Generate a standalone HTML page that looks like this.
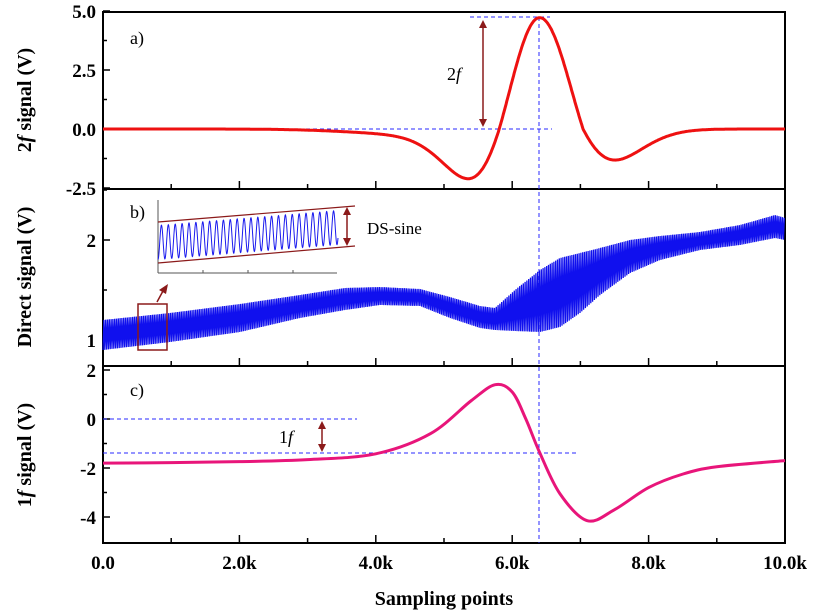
<!DOCTYPE html>
<html><head><meta charset="utf-8"><style>
body{margin:0;background:#fff}
svg{display:block;font-family:"Liberation Serif",serif}
.tl{font-weight:bold;font-size:19px}
</style></head><body>
<svg id="s" width="814" height="615" viewBox="0 0 814 615" xmlns="http://www.w3.org/2000/svg">
<g id="g"></g>
</svg>
<script>
const NS="http://www.w3.org/2000/svg",G=document.getElementById('g');
function el(t,a,txt){const e=document.createElementNS(NS,t);for(const k in a)e.setAttribute(k,a[k]);if(txt!==undefined)e.textContent=txt;G.appendChild(e);return e;}
const X=x=>103+x*68.2;
const YA=v=>129-v*23.6, YB=v=>340-(v-1)*100, YC=v=>419-v*24.5;
el('rect',{x:103,y:12,width:682,height:531,fill:'none',stroke:'#000','stroke-width':2});
el('line',{x1:103,y1:189,x2:785,y2:189,stroke:'#000','stroke-width':2});
el('line',{x1:103,y1:366,x2:785,y2:366,stroke:'#000','stroke-width':2});
[189,366,543].forEach(yb=>{for(let i=1;i<10;i++){const L=i%2==0?8:5;el('line',{x1:X(i),y1:yb,x2:X(i),y2:yb-L,stroke:'#000','stroke-width':1.5});}});
function yt(y,maj){el('line',{x1:103,y1:y,x2:103+(maj?7:4),y2:y,stroke:'#000','stroke-width':1.5});}
[5,2.5,0,-2.5].forEach(v=>yt(YA(v),1));[3.75,1.25,-1.25].forEach(v=>yt(YA(v),0));
[2,1].forEach(v=>yt(YB(v),1));[2.5,1.5].forEach(v=>yt(YB(v),0));
[2,0,-2,-4].forEach(v=>yt(YC(v),1));[1,-1,-3].forEach(v=>yt(YC(v),0));
[["5.0",YA(5)],["2.5",YA(2.5)],["0.0",YA(0)],["-2.5",YA(-2.5)],["2",YB(2)],["1",YB(1)],["2",YC(2)],["0",YC(0)],["-2",YC(-2)],["-4",YC(-4)]].forEach(([t,y])=>el('text',{x:96,y:y+7,'text-anchor':'end',class:'tl'},t));
["0.0","2.0k","4.0k","6.0k","8.0k","10.0k"].forEach((t,i)=>el('text',{x:X(i*2),y:569,'text-anchor':'middle',class:'tl'},t));
el('text',{x:444,y:605,'text-anchor':'middle','font-weight':'bold','font-size':20},'Sampling points');
function ylab(y,parts){const t=el('text',{transform:`translate(31,${y}) rotate(-90)`,'text-anchor':'middle','font-weight':'bold','font-size':20});parts.forEach(p=>{const s=document.createElementNS(NS,'tspan');s.textContent=p[0];if(p[1])s.setAttribute('font-style','italic');t.appendChild(s);});}
ylab(100,[["2"],["f",1],[" signal (V)"]]);
ylab(277,[["Direct signal (V)"]]);
ylab(455,[["1"],["f",1],[" signal (V)"]]);
el('text',{x:130,y:44,'font-size':18},'a)');
el('text',{x:130,y:218,'font-size':18},'b)');
el('text',{x:130,y:396,'font-size':18},'c)');
const dash={stroke:'#2a2aff','stroke-width':1,'stroke-dasharray':'4,3',fill:'none'};
el('line',Object.assign({x1:539,y1:17,x2:539,y2:543},dash));
el('line',Object.assign({x1:470,y1:17,x2:550,y2:17},dash));
el('line',Object.assign({x1:103,y1:129,x2:552,y2:129},dash));
el('line',Object.assign({x1:103,y1:419,x2:357,y2:419},dash));
el('line',Object.assign({x1:103,y1:453,x2:577,y2:453},dash));
function fa(x){const s=x<6.4?0.6:0.64;const u=(x-6.4)/s;let y=4.75*(1-u*u)*Math.exp(-u*u/2);if(y<0)y*=(x<6.4?0.92:0.62);y+=-0.22*Math.exp(-Math.pow((x-4.6)/1.3,2));return y;}
let d='';for(let i=0;i<=1000;i++){const x=i/100;d+=(i?'L':'M')+X(x).toFixed(1)+','+YA(fa(x)).toFixed(1);}
el('path',{d,fill:'none',stroke:'#ee1111','stroke-width':3});
const P=[[0,-1.8],[1,-1.78],[2,-1.74],[3,-1.66],[4,-1.42],[4.8,-0.6],[5.4,0.75],[5.75,1.4],[6.0,1.1],[6.2,0],[6.4,-1.35],[6.7,-3.05],[7.1,-4.15],[7.5,-3.7],[8,-2.8],[8.5,-2.25],[9,-1.95],[10,-1.7]].map(p=>[X(p[0]),YC(p[1])]);
d='M'+P[0][0]+','+P[0][1];
for(let i=0;i<P.length-1;i++){const p0=P[Math.max(0,i-1)],p1=P[i],p2=P[i+1],p3=P[Math.min(P.length-1,i+2)];
d+=`C${p1[0]+(p2[0]-p0[0])/6},${p1[1]+(p2[1]-p0[1])/6} ${p2[0]-(p3[0]-p1[0])/6},${p2[1]-(p3[1]-p1[1])/6} ${p2[0]},${p2[1]}`;}
el('path',{d,fill:'none',stroke:'#e8157a','stroke-width':3});
const E=[[103,320,350],[170,313,342],[240,304,332],[300,295,318],[345,288,310],[380,287,305],[420,289,306],[450,297,318],[480,306,328],[495,308,330],[515,290,331],[540,270,332],[560,258,327],[580,253,313],[600,248,295],[630,240,273],[660,236,260],[700,232,250],[740,225,245],[775,215,238],[785,218,240]];
function env(x){for(let i=0;i<E.length-1;i++){if(x<=E[i+1][0]){const t=(x-E[i][0])/(E[i+1][0]-E[i][0]);return [E[i][1]+t*(E[i+1][1]-E[i][1]),E[i][2]+t*(E[i+1][2]-E[i][2])];}}return [E[E.length-1][1],E[E.length-1][2]];}
d='';let k=0;for(let x=103;x<=785;x+=0.9){const e=env(x);const y=(k%2)?e[0]:e[1];d+=(k?'L':'M')+x.toFixed(1)+','+y.toFixed(1);k++;}
el('path',{d,fill:'none',stroke:'#1010ee','stroke-width':1.3});
el('rect',{x:138,y:304,width:29,height:46,fill:'none',stroke:'#8b1a1a','stroke-width':1.5});
el('line',{x1:157,y1:302,x2:163,y2:291,stroke:'#8b1a1a','stroke-width':1.5});
el('polygon',{points:'168,284 159,290 166,294',fill:'#8b1a1a'});
el('line',{x1:158,y1:200,x2:158,y2:273,stroke:'#555','stroke-width':1});
el('line',{x1:158,y1:273,x2:337,y2:273,stroke:'#555','stroke-width':1});
for(let i=1;i<4;i++)el('line',{x1:158+i*45,y1:273,x2:158+i*45,y2:270,stroke:'#555'});
el('line',{x1:158,y1:222,x2:355,y2:206,stroke:'#8b1a1a','stroke-width':1.2});
el('line',{x1:158,y1:263,x2:355,y2:246,stroke:'#8b1a1a','stroke-width':1.2});
d='';for(let i=0;i<=900;i++){const x=158+i*0.2;const c=242.5-(x-158)*0.083;const y=c+17*Math.sin((x-158)/179*26*2*Math.PI+Math.PI/2);d+=(i?'L':'M')+x.toFixed(1)+','+y.toFixed(1);}
el('path',{d,fill:'none',stroke:'#1a1aee','stroke-width':1});
function darr(x,y1,y2){el('line',{x1:x,y1:y1+6,x2:x,y2:y2-6,stroke:'#8b1a1a','stroke-width':1.5});el('polygon',{points:`${x},${y1} ${x-4},${y1+8} ${x+4},${y1+8}`,fill:'#8b1a1a'});el('polygon',{points:`${x},${y2} ${x-4},${y2-8} ${x+4},${y2-8}`,fill:'#8b1a1a'});}
darr(347,207,246);
el('text',{x:367,y:234,'font-size':17},'DS-sine');
darr(483,20,127);
darr(322,421,452);
let t=el('text',{x:447,y:80,'font-size':18},'2');let s=document.createElementNS(NS,'tspan');s.setAttribute('font-style','italic');s.textContent='f';t.appendChild(s);
t=el('text',{x:279,y:443,'font-size':18},'1');s=document.createElementNS(NS,'tspan');s.setAttribute('font-style','italic');s.textContent='f';t.appendChild(s);
</script>
</body></html>
